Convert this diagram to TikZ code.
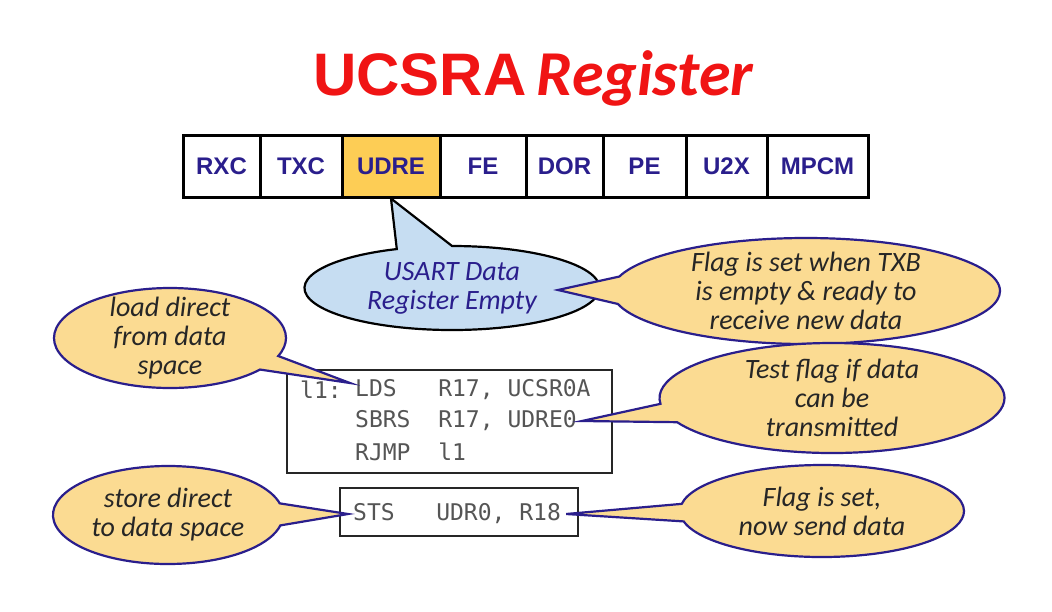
\documentclass[tikz,border=0pt]{standalone}
\usepackage{fontspec}
\setmainfont{Carlito}
\setsansfont{Liberation Sans}
\setmonofont{DejaVu Sans Mono}
\usetikzlibrary{shapes.callouts,shapes.geometric,positioning}
\definecolor{regblue}{HTML}{2A1E8C}
\definecolor{noteyellow}{HTML}{FBDB92}
\definecolor{udreyellow}{HTML}{FDCD55}
\definecolor{bubbleblue}{HTML}{C6DDF2}
\definecolor{codegray}{HTML}{555555}
\definecolor{titlered}{HTML}{F01414}

\tikzset{
  regcell/.style={draw=black, line width=3pt, minimum height=62, inner sep=0,
    font=\sffamily\bfseries\fontsize{24}{24}\selectfont, text=regblue},
  note/.style={ellipse callout, draw=regblue, line width=2.2pt, fill=noteyellow,
    align=center, inner sep=-6pt, callout pointer arc=30, text=black!85,
    font=\itshape\fontsize{28}{29}\selectfont},
  codebox/.style={draw=black!85, line width=2.8pt, fill=white, inner sep=0},
  code/.style={font=\ttfamily\fontsize{23}{23}\selectfont, text=codegray,
    anchor=west, inner sep=0, inner xsep=5pt},
}

\begin{document}
\begin{tikzpicture}[x=1pt, y=-1pt]
  \useasboundingbox[fill=white] (0,0) rectangle (1052,611);
  % title
  \node[anchor=base west, inner sep=0, text=titlered,
    font=\sffamily\bfseries\fontsize{60}{60}\selectfont] (ucsra) at (313,95) {UCSRA};
  \node[anchor=base west, inner sep=0, text=titlered,
    font=\bfseries\itshape\fontsize{64}{64}\selectfont] (regword) at ([xshift=10]ucsra.base east) {Register};

  % register bits
  \foreach \lbl/\cx/\w in {RXC/221.5/77, TXC/301/82, DOR/564.5/77, FE/483/86,
                           PE/644.5/83, U2X/726.5/81, MPCM/817.5/101}
    \node[regcell, minimum width=\w] (\lbl) at (\cx,166) {\lbl};
  \node[regcell, minimum width=98, fill=udreyellow] (UDRE) at (391,166) {UDRE};

  % code boxes
  \node[codebox, minimum width=325, minimum height=103] (loopbox) at (449.5,421.5) {};
  \node[code] (lbl) at (295,390) {l1:};
  \node[code] (lds) at (350,390) {LDS~~~R17, UCSR0A};
  \node[code] (sbrs) at (350,421) {SBRS~~R17, UDRE0};
  \node[code] (rjmp) at (350,452) {RJMP~~l1};

  \node[codebox, minimum width=238, minimum height=48] (stsbox) at (459,512) {};
  \node[code] (sts) at (348,514) {STS~~~UDR0, R18};

  % callouts
  \node[note, draw=black, fill=bubbleblue, text=regblue, callout pointer arc=22,
    minimum width=295, minimum height=84, callout absolute pointer={(UDRE.south)}]
    (usart) at (452,288) {USART Data\\Register Empty};
  \coordinate (txbtip) at (558,290);
  \node[note, minimum width=388, minimum height=106, callout absolute pointer={(txbtip)}]
    (txbnote) at (806,291) {Flag is set when TXB\\is empty \& ready to\\receive new data};
  \node[note, minimum width=232, minimum height=100, callout pointer arc=18,
    callout absolute pointer={([yshift=7pt]lds.west)}]
    (ldsnote) at (170,338) {load direct\\from data\\space};
  \node[note, minimum width=345, minimum height=110, callout pointer arc=20,
    callout absolute pointer={(sbrs.east)}]
    (testnote) at (832,398) {Test flag if data\\can be\\transmitted};
  \node[note, minimum width=230, minimum height=98, callout pointer arc=26,
    callout absolute pointer={(sts.west)}]
    (stsnote) at (168,515) {store direct\\to data space};
  \node[note, minimum width=284, minimum height=92, callout pointer arc=22,
    callout absolute pointer={(sts.east)}]
    (sendnote) at (822,511) {Flag is set,\\now send data};
\end{tikzpicture}
\end{document}
